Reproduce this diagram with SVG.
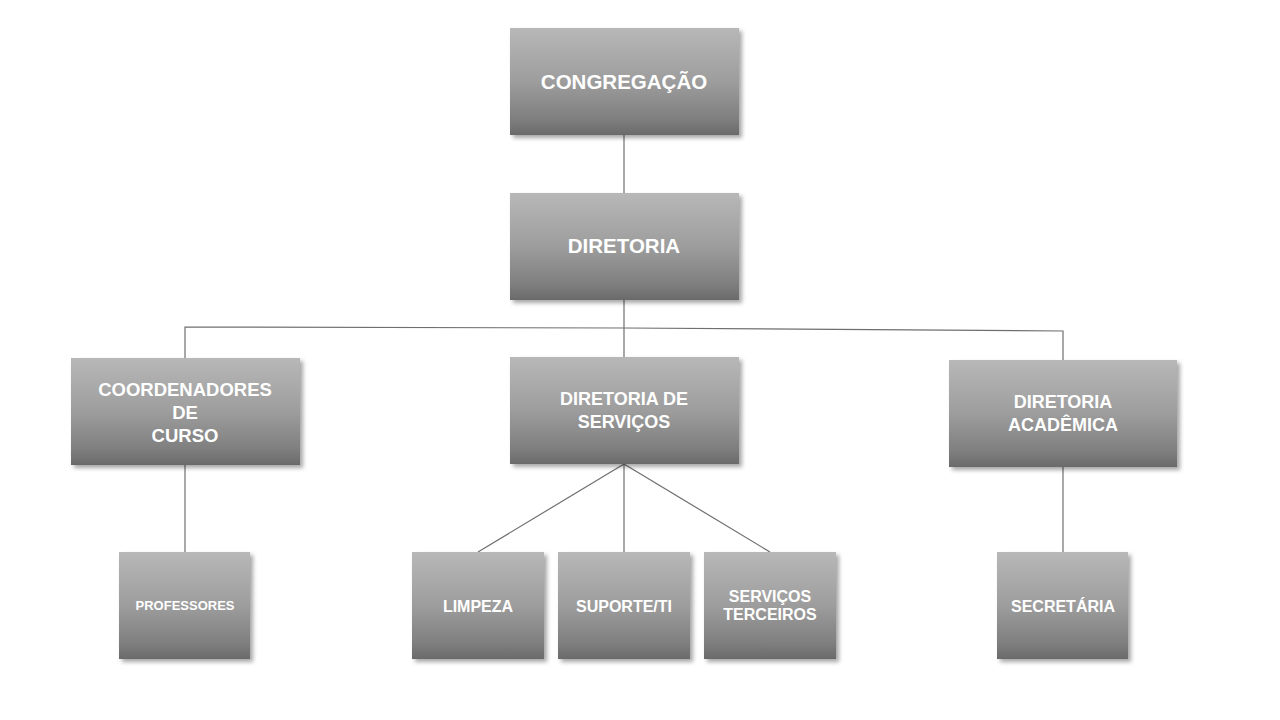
<svg xmlns="http://www.w3.org/2000/svg" width="1280" height="720" viewBox="0 0 1280 720">
<defs>
<linearGradient id="g" x1="0" y1="0" x2="0" y2="1">
<stop offset="0" stop-color="#b8b8b8"/>
<stop offset="0.5" stop-color="#9d9d9d"/>
<stop offset="0.85" stop-color="#7f7f7f"/>
<stop offset="1" stop-color="#6a6a6a"/>
</linearGradient>
<filter id="sh" x="-10%" y="-10%" width="125%" height="130%">
<feDropShadow dx="3" dy="3" stdDeviation="2" flood-color="#000" flood-opacity="0.35"/>
</filter>
</defs>
<style>
.box{fill:url(#g);filter:url(#sh)}
.t{font-family:"Liberation Sans",Arial,sans-serif;font-weight:bold;fill:#ffffff;text-anchor:middle}
.c{stroke:#6f6f6f;stroke-width:1.2;fill:none}
</style>
<rect width="1280" height="720" fill="#ffffff"/>
<g id="connectors">
<line class="c" x1="624" y1="135" x2="624" y2="193"/>
<line class="c" x1="624" y1="300" x2="624" y2="357"/>
<polyline class="c" points="185,358 185,327 624,328 1063,331 1063,360"/>
<line class="c" x1="185" y1="465" x2="185" y2="552"/>
<line class="c" x1="1063" y1="467" x2="1063" y2="552"/>
<line class="c" x1="624" y1="464" x2="478" y2="552"/>
<line class="c" x1="624" y1="464" x2="624" y2="552"/>
<line class="c" x1="624" y1="464" x2="770" y2="552"/>
</g>
<g id="congregacao">
<rect class="box" x="510" y="28" width="229" height="107"/>
<text class="t" x="624" y="89" font-size="20.5">CONGREGAÇÃO</text>
</g>
<g id="diretoria">
<rect class="box" x="510" y="193" width="229" height="107"/>
<text class="t" x="624" y="253" font-size="20.5">DIRETORIA</text>
</g>
<g id="coordenadores">
<rect class="box" x="71" y="358" width="229" height="107"/>
<text class="t" font-size="18.5"><tspan x="185" y="396">COORDENADORES</tspan><tspan x="185" y="419">DE</tspan><tspan x="185" y="442">CURSO</tspan></text>
</g>
<g id="diretoria-servicos">
<rect class="box" x="510" y="357" width="229" height="107"/>
<text class="t" font-size="18"><tspan x="624" y="405">DIRETORIA DE</tspan><tspan x="624" y="428">SERVIÇOS</tspan></text>
</g>
<g id="diretoria-academica">
<rect class="box" x="949" y="360" width="228" height="107"/>
<text class="t" font-size="18"><tspan x="1063" y="408">DIRETORIA</tspan><tspan x="1063" y="431">ACADÊMICA</tspan></text>
</g>
<g id="professores">
<rect class="box" x="119" y="552" width="131" height="107"/>
<text class="t" x="185" y="610" font-size="13">PROFESSORES</text>
</g>
<g id="limpeza">
<rect class="box" x="412" y="552" width="132" height="107"/>
<text class="t" x="478" y="612" font-size="16">LIMPEZA</text>
</g>
<g id="suporte">
<rect class="box" x="558" y="552" width="132" height="107"/>
<text class="t" x="624" y="612" font-size="16">SUPORTE/TI</text>
</g>
<g id="servicos-terceiros">
<rect class="box" x="704" y="552" width="132" height="107"/>
<text class="t" font-size="16"><tspan x="770" y="602">SERVIÇOS</tspan><tspan x="770" y="620">TERCEIROS</tspan></text>
</g>
<g id="secretaria">
<rect class="box" x="997" y="552" width="131" height="107"/>
<text class="t" x="1063" y="612" font-size="16">SECRETÁRIA</text>
</g>
</svg>
